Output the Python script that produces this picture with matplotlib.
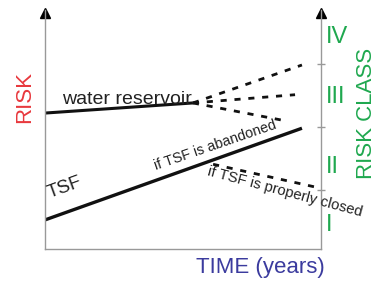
import matplotlib
matplotlib.use('Agg')
import matplotlib.pyplot as plt

plt.rcParams['font.family'] = ['Liberation Sans', 'DejaVu Sans']

# time in arbitrary units (0-10), risk in class units (boundaries at 1, 2, 3)
water_t = [0, 5.36]
water_r = [2.22, 2.38]

# possible futures of the water reservoir (dashed)
water_fut_t = [[5.36, 9.31], [5.36, 9.06], [5.36, 8.80]]
water_fut_r = [[2.38, 2.98], [2.38, 2.51], [2.38, 2.09]]

tsf_t = [0, 9.31]
tsf_r = [0.53, 1.98]

closed_t = [6.09, 10]
closed_r = [1.41, 1.03]

class_bounds = [1, 2, 3]
class_labels = ['I', 'II', 'III', 'IV']
class_label_y = [225, 167, 97, 37]  # pixel rows of the labels

W, H = 378, 284
fig = plt.figure(figsize=(W / 100, H / 100), dpi=100)
ax = fig.add_axes([45 / W, 1 - 249 / H, 276 / W, 239 / H])
ax.set_xlim(0, 10)
ax.set_ylim(0.07, 3.85)

axis_col = '#999999'
for s in ['left', 'right', 'bottom']:
    ax.spines[s].set_color(axis_col)
    ax.spines[s].set_linewidth(1.0)
ax.spines['top'].set_visible(False)
ax.set_xticks([])
ax.yaxis.tick_right()
ax.set_yticks(class_bounds)
ax.set_yticklabels([])
ax.tick_params(axis='y', direction='inout', length=6, color=axis_col, width=1)

# arrow heads
ax.plot([0, 10], [3.80, 3.80], linestyle='none', marker='^', markersize=7,
        color='black', clip_on=False)

# lines
ax.plot(water_t, water_r, color='#111111', lw=2.2, solid_capstyle='butt')
for t, r in zip(water_fut_t, water_fut_r):
    ax.plot(t, r, color='#111111', lw=2.0, linestyle=(0, (2.2, 2.8)))
ax.plot(tsf_t, tsf_r, color='#111111', lw=2.4, solid_capstyle='butt')
ax.plot(closed_t, closed_r, color='#111111', lw=2.0, linestyle=(0, (2.2, 2.8)))

txt = '#222222'
def px(x, y):
    return x / W, 1 - y / H

fig.text(*px(62, 103.5), 'water reservoir', fontsize=14, color=txt,
         ha='left', va='baseline')
fig.text(*px(65, 188), 'TSF', fontsize=13.5, color=txt, rotation=20,
         ha='center', va='center')
fig.text(*px(215, 145), 'if TSF is abandoned', fontsize=10.3, color=txt,
         rotation=19, ha='center', va='center')
fig.text(*px(285, 192), 'if TSF is properly closed', fontsize=10.7, color=txt,
         rotation=-15, ha='center', va='center')

fig.text(*px(25, 97), 'RISK', fontsize=16, color='#e8383d', rotation=90,
         ha='center', va='center')
fig.text(*px(366, 113), 'RISK CLASS', fontsize=16, color='#1fa84f', rotation=90,
         ha='center', va='center')
for lab, y in zip(class_labels, class_label_y):
    fig.text(*px(326, y), lab, fontsize=17, color='#1fa84f', ha='left', va='center')
fig.text(*px(260, 268), 'TIME (years)', fontsize=16, color='#3b3b9e',
         ha='center', va='center')

fig.savefig('out.png', dpi=100)
